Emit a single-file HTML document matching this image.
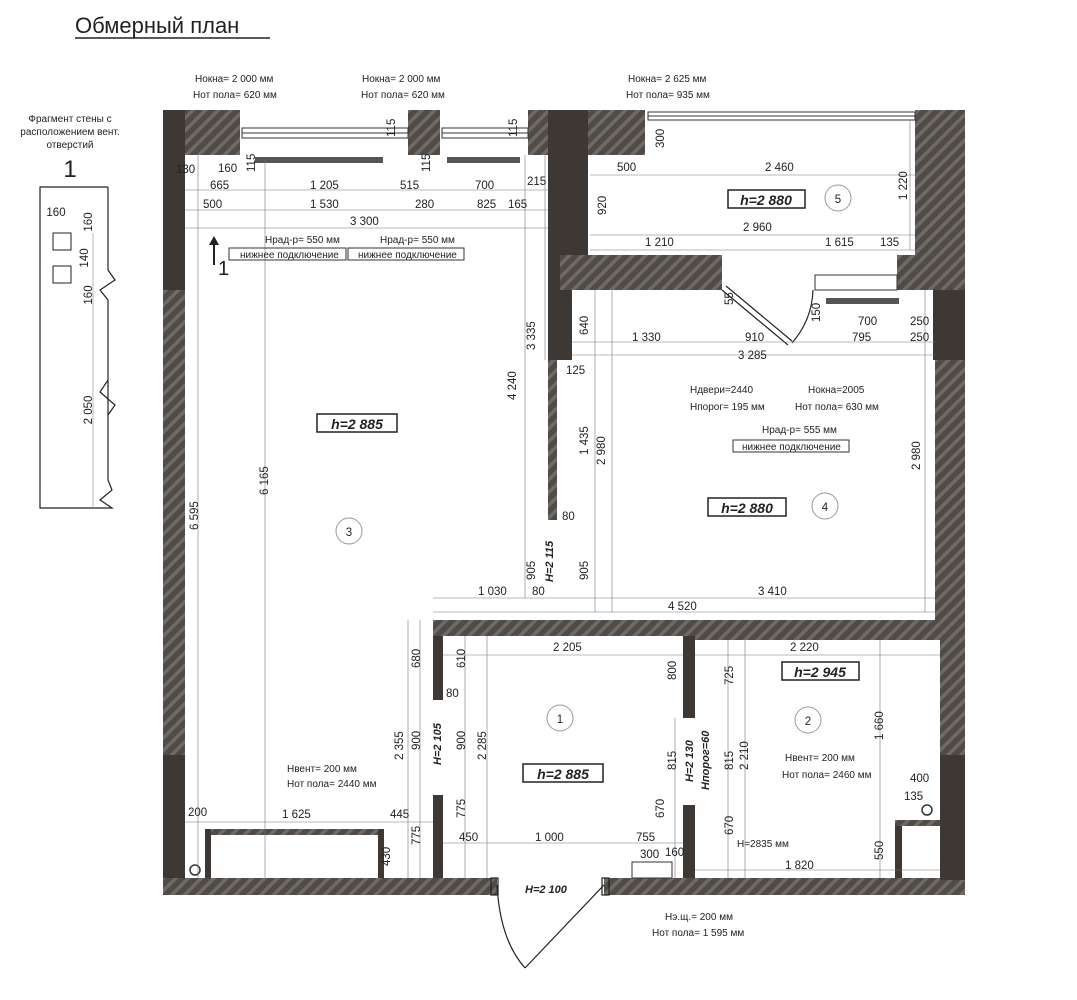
<!DOCTYPE html>
<html><head><meta charset="utf-8"><style>
html,body{margin:0;padding:0;background:#fff;}
svg{display:block;}
text{font-family:"Liberation Sans Narrow","Liberation Sans",sans-serif;fill:#222;}
.d{font-size:11.5px;}
.s{font-size:10px;}
.b{font-size:14px;font-weight:bold;font-style:italic;}
.bi{font-size:11px;font-weight:bold;font-style:italic;}
</style></head><body>
<svg width="1077" height="1000" viewBox="0 0 1077 1000" xmlns="http://www.w3.org/2000/svg">
<defs>
<pattern id="h" patternUnits="userSpaceOnUse" width="9" height="9" patternTransform="rotate(45)">
<rect width="9" height="9" fill="#6e6a66"/><rect width="5.5" height="9" fill="#514b47"/>
</pattern>
</defs>
<text x="75" y="33" style="font-family:'Liberation Sans',sans-serif;font-size:22px">Обмерный план</text>
<line x1="75" y1="38" x2="270" y2="38" stroke="#222" stroke-width="1.5"/>

<!-- legend -->
<text x="70" y="122" class="s" text-anchor="middle">Фрагмент стены с</text>
<text x="70" y="135" class="s" text-anchor="middle">расположением вент.</text>
<text x="70" y="148" class="s" text-anchor="middle">отверстий</text>
<text x="70" y="177" style="font-size:24px;font-family:'Liberation Sans',sans-serif" text-anchor="middle">1</text>
<polyline points="108,187 40,187 40,508 112,508 100,500 112,490 108,480 108,300 100,290 115,280 108,270 108,187" fill="none" stroke="#222" stroke-width="1.2"/>
<polyline points="108,380 100,392 115,405 108,415" fill="none" stroke="#222" stroke-width="1.2"/>
<rect x="53" y="233" width="18" height="17" fill="none" stroke="#222"/>
<rect x="53" y="266" width="18" height="17" fill="none" stroke="#222"/>
<line x1="93" y1="233" x2="93" y2="508" stroke="#888" stroke-width="0.6"/>
<text x="56" y="216" class="d" text-anchor="middle">160</text>
<text x="92" y="222" class="d" transform="rotate(-90 92 222)" text-anchor="middle">160</text>
<text x="88" y="258" class="d" transform="rotate(-90 88 258)" text-anchor="middle">140</text>
<text x="92" y="295" class="d" transform="rotate(-90 92 295)" text-anchor="middle">160</text>
<text x="92" y="410" class="d" transform="rotate(-90 92 410)" text-anchor="middle">2 050</text>

<!-- walls -->
<rect x="163" y="110" width="22" height="180" fill="#3e3834"/>
<rect x="163" y="290" width="22" height="465" fill="url(#h)"/>
<rect x="163" y="755" width="22" height="140" fill="#3e3834"/>
<rect x="163" y="878" width="334" height="17" fill="url(#h)"/>
<rect x="604" y="878" width="361" height="17" fill="url(#h)"/>
<rect x="185" y="110" width="55" height="45" fill="url(#h)"/>
<rect x="408" y="110" width="32" height="45" fill="url(#h)"/>
<rect x="528" y="110" width="20" height="45" fill="url(#h)"/>
<rect x="548" y="110" width="40" height="180" fill="#3e3834"/>
<rect x="588" y="110" width="57" height="45" fill="url(#h)"/>
<rect x="915" y="110" width="50" height="180" fill="url(#h)"/>
<rect x="560" y="255" width="162" height="35" fill="url(#h)"/>
<rect x="897" y="255" width="38" height="35" fill="url(#h)"/>
<rect x="548" y="290" width="24" height="70" fill="#3e3834"/>
<rect x="548" y="360" width="9" height="160" fill="url(#h)"/>
<rect x="933" y="290" width="32" height="70" fill="#3e3834"/>
<rect x="935" y="360" width="30" height="260" fill="url(#h)"/>
<rect x="433" y="620" width="532" height="16" fill="url(#h)"/>
<rect x="687" y="636" width="278" height="4" fill="url(#h)"/>
<rect x="940" y="640" width="25" height="115" fill="url(#h)"/>
<rect x="940" y="755" width="25" height="125" fill="#3e3834"/>
<rect x="433" y="636" width="10" height="64" fill="#3e3834"/>
<rect x="433" y="795" width="10" height="83" fill="#3e3834"/>
<rect x="683" y="636" width="12" height="82" fill="#3e3834"/>
<rect x="683" y="805" width="12" height="73" fill="#3e3834"/>
<!-- windows -->
<g stroke="#333" fill="none" stroke-width="1">
<rect x="242" y="128" width="166" height="10"/><line x1="242" y1="133" x2="408" y2="133"/>
<rect x="442" y="128" width="86" height="10"/><line x1="442" y1="133" x2="528" y2="133"/>
<rect x="648" y="112" width="267" height="8"/><line x1="648" y1="116" x2="915" y2="116"/>
<rect x="815" y="275" width="82" height="15"/>
</g>
<!-- radiators -->
<rect x="255" y="157" width="128" height="6" fill="#555"/>
<rect x="447" y="157" width="73" height="6" fill="#555"/>
<rect x="826" y="298" width="73" height="6" fill="#555"/>
<!-- box bottom-left -->
<rect x="205" y="829" width="175" height="6" fill="url(#h)"/>
<rect x="205" y="829" width="6" height="49" fill="#3e3834"/>
<rect x="378" y="829" width="6" height="49" fill="#3e3834"/>
<circle cx="195" cy="870" r="5" fill="none" stroke="#333" stroke-width="1.5"/>
<rect x="895" y="820" width="45" height="6" fill="url(#h)"/>
<rect x="895" y="826" width="7" height="52" fill="#3e3834"/>
<circle cx="927" cy="810" r="5" fill="none" stroke="#333" stroke-width="1.5"/>
<!-- doors -->
<g fill="none" stroke="#222" stroke-width="1.2">
<path d="M497,885 Q500,940 525,968"/><line x1="604" y1="885" x2="525" y2="968"/>
<rect x="491" y="878" width="7" height="17"/><rect x="602" y="878" width="7" height="17"/>
<line x1="722" y1="290" x2="788" y2="345"/><line x1="726" y1="286" x2="792" y2="341"/>
<path d="M792,343 Q812,320 813,290"/>
</g>
<rect x="632" y="862" width="40" height="16" fill="none" stroke="#333"/>

<!-- dimension lines -->
<g stroke="#777" stroke-width="0.6">
<line x1="185" y1="190" x2="548" y2="190"/><line x1="185" y1="210" x2="548" y2="210"/><line x1="185" y1="228" x2="548" y2="228"/>
<line x1="590" y1="175" x2="915" y2="175"/><line x1="590" y1="235" x2="915" y2="235"/><line x1="590" y1="250" x2="915" y2="250"/>
<line x1="572" y1="342" x2="935" y2="342"/><line x1="572" y1="355" x2="935" y2="355"/>
<line x1="433" y1="598" x2="935" y2="598"/><line x1="433" y1="612" x2="935" y2="612"/>
<line x1="198" y1="155" x2="198" y2="878"/><line x1="265" y1="160" x2="265" y2="878"/>
<line x1="525" y1="155" x2="525" y2="598"/><line x1="545" y1="155" x2="545" y2="360"/>
<line x1="595" y1="290" x2="595" y2="612"/><line x1="612" y1="290" x2="612" y2="612"/>
<line x1="925" y1="290" x2="925" y2="612"/><line x1="910" y1="120" x2="910" y2="250"/>
<line x1="185" y1="822" x2="433" y2="822"/>
<line x1="408" y1="620" x2="408" y2="878"/><line x1="420" y1="620" x2="420" y2="878"/>
<line x1="465" y1="636" x2="465" y2="878"/><line x1="487" y1="636" x2="487" y2="878"/>
<line x1="443" y1="843" x2="683" y2="843"/><line x1="443" y1="655" x2="683" y2="655"/>
<line x1="695" y1="655" x2="940" y2="655"/><line x1="695" y1="870" x2="940" y2="870"/>
<line x1="675" y1="718" x2="675" y2="878"/><line x1="728" y1="640" x2="728" y2="878"/><line x1="745" y1="640" x2="745" y2="878"/>
<line x1="880" y1="640" x2="880" y2="878"/>
</g>

<!-- dimension labels -->
<g class="d">
<text x="176" y="173">130</text><text x="218" y="172">160</text>
<text x="210" y="189">665</text><text x="310" y="189">1 205</text><text x="400" y="189">515</text><text x="475" y="189">700</text><text x="527" y="185">215</text>
<text x="203" y="208">500</text><text x="310" y="208">1 530</text><text x="415" y="208">280</text><text x="477" y="208">825</text><text x="508" y="208">165</text>
<text x="350" y="225">3 300</text>
<text x="617" y="171">500</text><text x="765" y="171">2 460</text>
<text x="743" y="231">2 960</text><text x="645" y="246">1 210</text><text x="825" y="246">1 615</text><text x="880" y="246">135</text>
<text x="632" y="341">1 330</text><text x="745" y="341">910</text><text x="852" y="341">795</text><text x="858" y="325">700</text><text x="910" y="325">250</text><text x="910" y="341">250</text>
<text x="738" y="359">3 285</text><text x="566" y="374">125</text>
<text x="562" y="520">80</text><text x="532" y="595">80</text>
<text x="478" y="595">1 030</text><text x="758" y="595">3 410</text><text x="668" y="610">4 520</text>
<text x="553" y="651">2 205</text><text x="790" y="651">2 220</text>
<text x="446" y="697">80</text>
<text x="188" y="816">200</text><text x="282" y="818">1 625</text><text x="390" y="818">445</text>
<text x="459" y="841">450</text><text x="535" y="841">1 000</text><text x="636" y="841">755</text>
<text x="640" y="858">300</text><text x="665" y="856">160</text>
<text x="785" y="869">1 820</text><text x="910" y="782">400</text><text x="904" y="800">135</text>
</g>
<g class="d">
<text transform="translate(395,137) rotate(-90)">115</text>
<text transform="translate(517,137) rotate(-90)">115</text>
<text transform="translate(255,172) rotate(-90)">115</text>
<text transform="translate(430,172) rotate(-90)">115</text>
<text transform="translate(664,148) rotate(-90)">300</text>
<text transform="translate(606,215) rotate(-90)">920</text>
<text transform="translate(907,200) rotate(-90)">1 220</text>
<text transform="translate(535,350) rotate(-90)">3 335</text>
<text transform="translate(516,400) rotate(-90)">4 240</text>
<text transform="translate(588,335) rotate(-90)">640</text>
<text transform="translate(588,455) rotate(-90)">1 435</text>
<text transform="translate(605,465) rotate(-90)">2 980</text>
<text transform="translate(920,470) rotate(-90)">2 980</text>
<text transform="translate(733,305) rotate(-90)">55</text>
<text transform="translate(820,322) rotate(-90)">150</text>
<text transform="translate(535,580) rotate(-90)">905</text>
<text transform="translate(588,580) rotate(-90)">905</text>
<text transform="translate(198,530) rotate(-90)">6 595</text>
<text transform="translate(268,495) rotate(-90)">6 165</text>
<text transform="translate(420,668) rotate(-90)">680</text>
<text transform="translate(465,668) rotate(-90)">610</text>
<text transform="translate(403,760) rotate(-90)">2 355</text>
<text transform="translate(420,750) rotate(-90)">900</text>
<text transform="translate(465,750) rotate(-90)">900</text>
<text transform="translate(486,760) rotate(-90)">2 285</text>
<text transform="translate(465,818) rotate(-90)">775</text>
<text transform="translate(420,845) rotate(-90)">775</text>
<text transform="translate(390,866) rotate(-90)">430</text>
<text transform="translate(676,680) rotate(-90)">800</text>
<text transform="translate(733,685) rotate(-90)">725</text>
<text transform="translate(676,770) rotate(-90)">815</text>
<text transform="translate(733,770) rotate(-90)">815</text>
<text transform="translate(748,770) rotate(-90)">2 210</text>
<text transform="translate(664,818) rotate(-90)">670</text>
<text transform="translate(733,835) rotate(-90)">670</text>
<text transform="translate(883,740) rotate(-90)">1 660</text>
<text transform="translate(883,860) rotate(-90)">550</text>
</g>
<g class="bi">
<text transform="translate(553,582) rotate(-90)">H=2 115</text>
<text transform="translate(441,765) rotate(-90)">H=2 105</text>
<text transform="translate(693,782) rotate(-90)">H=2 130</text>
<text transform="translate(709,790) rotate(-90)">Нпорог=60</text>
<text x="525" y="893">H=2 100</text>
</g>

<!-- annotations -->
<g class="s">
<text x="195" y="82">Нокна= 2 000 мм</text><text x="193" y="98">Нот пола= 620 мм</text>
<text x="362" y="82">Нокна= 2 000 мм</text><text x="361" y="98">Нот пола= 620 мм</text>
<text x="628" y="82">Нокна= 2 625 мм</text><text x="626" y="98">Нот пола= 935 мм</text>
<text x="265" y="243">Нрад-р= 550 мм</text><text x="380" y="243">Нрад-р= 550 мм</text>
<text x="690" y="393">Ндвери=2440</text><text x="690" y="410">Нпорог= 195 мм</text>
<text x="808" y="393">Нокна=2005</text><text x="795" y="410">Нот пола= 630 мм</text>
<text x="762" y="433">Нрад-р= 555 мм</text>
<text x="287" y="772">Нвент= 200 мм</text><text x="287" y="787">Нот пола= 2440 мм</text>
<text x="785" y="761">Нвент= 200 мм</text><text x="782" y="778">Нот пола= 2460 мм</text>
<text x="737" y="847">H=2835 мм</text>
<text x="665" y="920">Нэ.щ.= 200 мм</text><text x="652" y="936">Нот пола= 1 595 мм</text>
</g>
<g fill="none" stroke="#333" stroke-width="1">
<rect x="229" y="248" width="117" height="12"/><rect x="348" y="248" width="116" height="12"/><rect x="733" y="440" width="116" height="12"/>
</g>
<g class="s"><text x="240" y="258">нижнее подключение</text><text x="358" y="258">нижнее подключение</text><text x="742" y="450">нижнее подключение</text></g>
<polygon points="214,236 219,245 209,245" fill="#222"/><line x1="214" y1="244" x2="214" y2="265" stroke="#222" stroke-width="2"/>
<text x="218" y="275" style="font-size:20px;font-family:'Liberation Sans',sans-serif">1</text>

<!-- room labels -->
<g fill="none" stroke="#222" stroke-width="1.5">
<rect x="728" y="190" width="77" height="18"/><rect x="317" y="414" width="80" height="18"/><rect x="708" y="498" width="78" height="18"/>
<rect x="523" y="764" width="80" height="18"/><rect x="782" y="662" width="77" height="18"/>
</g>
<text x="766" y="205" class="b" text-anchor="middle">h=2 880</text>
<text x="357" y="429" class="b" text-anchor="middle">h=2 885</text>
<text x="747" y="513" class="b" text-anchor="middle">h=2 880</text>
<text x="563" y="779" class="b" text-anchor="middle">h=2 885</text>
<text x="820" y="677" class="b" text-anchor="middle">h=2 945</text>
<g fill="none" stroke="#999"><circle cx="838" cy="198" r="13"/><circle cx="349" cy="531" r="13"/><circle cx="825" cy="506" r="13"/><circle cx="560" cy="718" r="13"/><circle cx="808" cy="720" r="13"/></g>
<g class="d" text-anchor="middle"><text x="838" y="203">5</text><text x="349" y="536">3</text><text x="825" y="511">4</text><text x="560" y="723">1</text><text x="808" y="725">2</text></g>
</svg>
</body></html>
